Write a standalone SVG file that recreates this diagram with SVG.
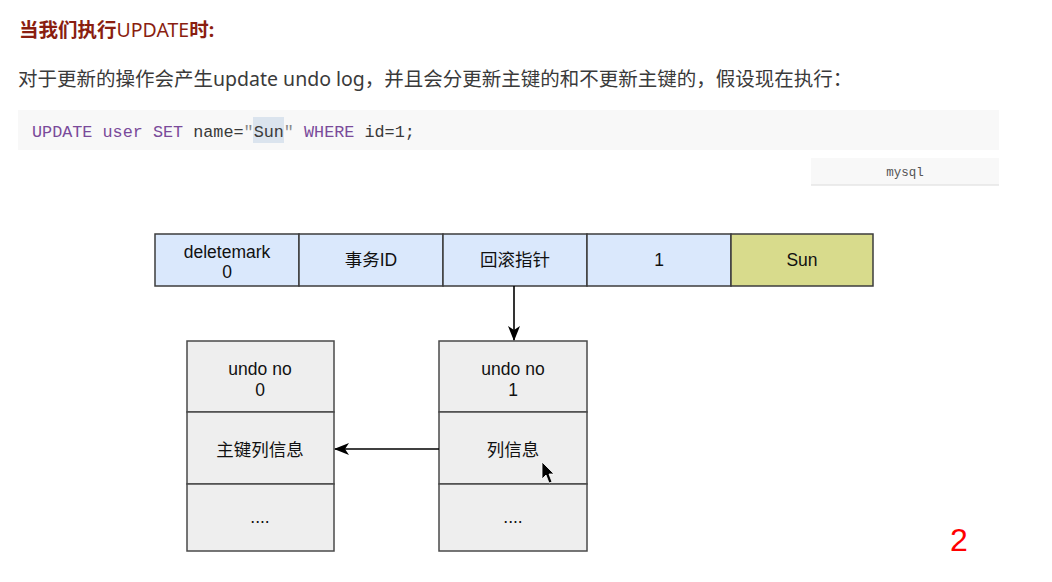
<svg xmlns="http://www.w3.org/2000/svg" width="1052" height="582" viewBox="0 0 1052 582">
<defs>
<style>
.h{font-family:"Noto Sans","Noto Sans CJK SC",sans-serif;font-size:19.5px;fill:#8a1e10;font-weight:bold}
.p{font-family:"Noto Sans","Noto Sans CJK SC",sans-serif;font-size:19.5px;fill:#3a3a3a}
.code{font-family:"Liberation Mono",monospace;font-size:16.8px;fill:#3a3a3a}
.kw{fill:#7a4a9a}
.q{fill:#8a8a8a}
.d{font-family:"Liberation Sans","Noto Sans CJK SC",sans-serif;font-size:17.5px;fill:#111;text-anchor:middle}
.blue{fill:#dae8fc;stroke:#3c3c3c;stroke-width:1.5}
.sun{fill:#d8db8c;stroke:#3c3c3c;stroke-width:1.5}
.gray{fill:#eeeeee;stroke:#4a4a4a;stroke-width:1.5}
.edge{fill:none;stroke:#000;stroke-width:1.6}
</style>
<marker id="ah" viewBox="0 0 15 12" refX="14" refY="6" markerWidth="15" markerHeight="12" markerUnits="userSpaceOnUse" orient="auto">
<path d="M0,0 L15,6 L0,12 L4,6 Z" fill="#000"/>
</marker>
</defs>
<rect width="1052" height="582" fill="#fff"/>
<text class="h" x="19" y="37">当我们执行<tspan font-weight="normal">UPDATE</tspan>时:</text>
<text class="p" x="18" y="86">对于更新的操作会产生update undo log，并且会分更新主键的和不更新主键的，假设现在执行：</text>
<rect x="18" y="110" width="981" height="40" fill="#f8f8f8"/>
<rect x="253" y="117" width="31" height="26" fill="#dbe4ee"/>
<text class="code" x="32" y="137"><tspan class="kw">UPDATE</tspan> <tspan class="kw">user</tspan> <tspan class="kw">SET</tspan> name=<tspan class="q">"</tspan>Sun<tspan class="q">"</tspan> <tspan class="kw">WHERE</tspan> id=1;</text>
<rect x="811" y="158" width="188" height="27" fill="#f8f8f8"/>
<line x1="811" y1="185" x2="999" y2="185" stroke="#e6e6e6" stroke-width="1.5"/>
<text x="905" y="176" font-family="Liberation Mono,monospace" font-size="12.5" fill="#555" text-anchor="middle">mysql</text>
<g id="row">
<g id="c1"><rect class="blue" x="155" y="234" width="144" height="52"/><text class="d" x="227" y="258">deletemark</text><text class="d" x="227" y="278">0</text></g>
<g id="c2"><rect class="blue" x="299" y="234" width="144" height="52"/><text class="d" x="371" y="266">事务ID</text></g>
<g id="c3"><rect class="blue" x="443" y="234" width="144" height="52"/><text class="d" x="515" y="266">回滚指针</text></g>
<g id="c4"><rect class="blue" x="587" y="234" width="144" height="52"/><text class="d" x="659" y="266">1</text></g>
<g id="c5"><rect class="sun" x="731" y="234" width="142" height="52"/><text class="d" x="802" y="266">Sun</text></g>
</g>
<g id="undo0">
<rect class="gray" x="187" y="341" width="147" height="71"/>
<rect class="gray" x="187" y="412" width="147" height="72"/>
<rect class="gray" x="187" y="484" width="147" height="67"/>
<text class="d" x="260" y="375">undo no</text><text class="d" x="260" y="396">0</text>
<text class="d" x="260" y="456">主键列信息</text>
<text class="d" x="260" y="523">....</text>
</g>
<g id="undo1">
<rect class="gray" x="439" y="341" width="148" height="71"/>
<rect class="gray" x="439" y="412" width="148" height="72"/>
<rect class="gray" x="439" y="484" width="148" height="67"/>
<text class="d" x="513" y="375">undo no</text><text class="d" x="513" y="396">1</text>
<text class="d" x="513" y="456">列信息</text>
<text class="d" x="513" y="523">....</text>
</g>
<g id="edges">
<line class="edge" x1="514" y1="286" x2="514" y2="340" marker-end="url(#ah)"/>
<line class="edge" x1="439" y1="449" x2="335" y2="449" marker-end="url(#ah)"/>
</g>
<path d="M542,462 L542,479 L546,475 L549,483 L552,482 L549,474 L554,474 Z" fill="#000" stroke="#fff" stroke-width="0.8"/>
<text x="959" y="551" font-family="Liberation Sans,sans-serif" font-size="32" fill="#f00" text-anchor="middle">2</text>
</svg>
